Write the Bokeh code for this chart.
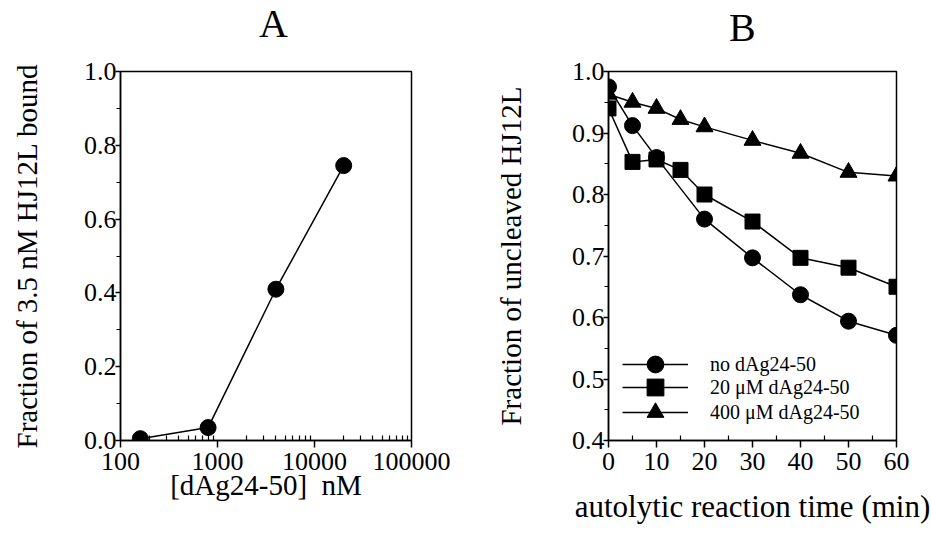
from bokeh.plotting import figure
from bokeh.layouts import row, column
from bokeh.models import (FixedTicker, NumeralTickFormatter, PrintfTickFormatter,
                          Range1d, Legend, LegendItem, Div)
from bokeh.embed import file_html
from bokeh.resources import INLINE

# ---- Panel A data ----
conc_nM = [160, 800, 4000, 20000]
frac_bound = [0.005, 0.035, 0.41, 0.745]
a_xticks = [100, 1000, 10000, 100000]
a_yticks = [0.0, 0.2, 0.4, 0.6, 0.8, 1.0]

# ---- Panel B data ----
t_none = [0, 5, 10, 20, 30, 40, 50, 60]
f_none = [0.975, 0.912, 0.860, 0.760, 0.697, 0.637, 0.594, 0.571]
t_20uM = [0, 5, 10, 15, 20, 30, 40, 50, 60]
f_20uM = [0.940, 0.853, 0.857, 0.840, 0.800, 0.756, 0.697, 0.681, 0.650]
t_400uM = [0, 5, 10, 15, 20, 30, 40, 50, 60]
f_400uM = [0.963, 0.950, 0.940, 0.922, 0.910, 0.888, 0.867, 0.836, 0.830]
b_xticks = [0, 10, 20, 30, 40, 50, 60]
b_yticks = [0.4, 0.5, 0.6, 0.7, 0.8, 0.9, 1.0]
legend_labels = ["no dAg24-50", "20 \u03bcM dAg24-50", "400 \u03bcM dAg24-50"]
panel_titles = ["A", "B"]

FONT = "Liberation Serif"
HEAD = 56


def style(p):
    p.outline_line_color = "black"
    p.outline_line_width = 1.5
    p.grid.visible = False
    p.background_fill_color = "white"
    p.border_fill_color = "white"
    for ax in (p.xaxis[0], p.yaxis[0]):
        ax.axis_line_width = 1.5
        ax.axis_line_color = "black"
        ax.major_tick_line_width = 1.5
        ax.minor_tick_line_width = 1.2
        ax.major_label_text_font = FONT
        ax.major_label_text_font_size = "26px"
        ax.major_label_text_color = "black"
        ax.axis_label_text_font = FONT
        ax.axis_label_text_font_size = "29px"
        ax.axis_label_text_font_style = "normal"
        ax.axis_label_text_color = "black"
    yax = p.yaxis[0]
    yax.major_tick_out = 5
    yax.major_tick_in = 0
    yax.minor_tick_out = 4
    yax.minor_tick_in = 0
    yax.major_label_standoff = -1
    xax = p.xaxis[0]
    xax.major_tick_out = 7
    xax.major_tick_in = 0
    xax.minor_tick_out = 0
    xax.minor_tick_in = 5
    xax.major_label_standoff = 5


def head(text, width, pad_left, line_h):
    return Div(text=text, width=width, height=HEAD, margin=0,
               styles={"font-family": FONT, "font-size": "40px",
                       "line-height": f"{line_h}px", "color": "black",
                       "padding-left": f"{pad_left}px", "text-align": "left",
                       "background-color": "white"})


# ---------------- Panel A ----------------
pa = figure(width=468, height=536 - HEAD, x_axis_type="log",
            output_backend="svg", toolbar_location=None,
            x_range=Range1d(100, 100000), y_range=Range1d(0, 1.0),
            min_border_left=120, min_border_right=57,
            min_border_top=68 - HEAD, min_border_bottom=96)
pa.line(conc_nM, frac_bound, line_color="black", line_width=1.5)
pa.scatter(conc_nM, frac_bound, marker="circle", size=16,
           fill_color="black", line_color="black")
minor_log = [m * d for d in (100, 1000, 10000) for m in range(2, 10)]
pa.xaxis.ticker = FixedTicker(ticks=a_xticks, minor_ticks=minor_log)
pa.xaxis.formatter = NumeralTickFormatter(format="0")
pa.yaxis.ticker = FixedTicker(ticks=a_yticks,
                              minor_ticks=[0.1, 0.3, 0.5, 0.7, 0.9])
pa.yaxis.formatter = PrintfTickFormatter(format="%.1f")
pa.xaxis.axis_label = "[dAg24-50]\u00a0 nM"
pa.yaxis.axis_label = "Fraction of 3.5 nM HJ12L bound"
style(pa)
pa.xaxis.axis_label_standoff = -4
pa.yaxis.axis_label_standoff = 38

# ---------------- Panel B ----------------
pb = figure(width=463, height=536 - HEAD, output_backend="svg",
            toolbar_location=None,
            x_range=Range1d(0, 60), y_range=Range1d(0.4, 1.0),
            min_border_left=140, min_border_right=35,
            min_border_top=71 - HEAD, min_border_bottom=95)
l1 = pb.line(t_none, f_none, line_color="black", line_width=1.5)
s1 = pb.scatter(t_none, f_none, marker="circle", size=16,
                fill_color="black", line_color="black")
l2 = pb.line(t_20uM, f_20uM, line_color="black", line_width=1.5)
s2 = pb.scatter(t_20uM, f_20uM, marker="square", size=15,
                fill_color="black", line_color="black")
l3 = pb.line(t_400uM, f_400uM, line_color="black", line_width=1.5)
s3 = pb.scatter(t_400uM, f_400uM, marker="triangle", size=17,
                fill_color="black", line_color="black")
pb.xaxis.ticker = FixedTicker(ticks=b_xticks,
                              minor_ticks=[5, 15, 25, 35, 45, 55])
pb.yaxis.ticker = FixedTicker(ticks=b_yticks,
                              minor_ticks=[0.45, 0.55, 0.65, 0.75, 0.85, 0.95])
pb.yaxis.formatter = PrintfTickFormatter(format="%.1f")
pb.xaxis.axis_label = "autolytic reaction time (min)"
pb.yaxis.axis_label = "Fraction of uncleaved HJ12L"
style(pb)
pb.xaxis.axis_label_text_font_size = "31px"
pb.xaxis.axis_label_standoff = 16
pb.yaxis.axis_label_standoff = 42

# one single-row legend per series so the rows can sit closer than the
# (large) glyph box that gives the big legend markers
legend_rows = [(legend_labels[0], [l1, s1], 55),
               (legend_labels[1], [l2, s2], 32),
               (legend_labels[2], [l3, s3], 7)]
for lab, rends, ypos in legend_rows:
    lg = Legend(items=[LegendItem(label=lab, renderers=rends)],
                location=(14, ypos))
    lg.border_line_color = None
    lg.background_fill_alpha = 0
    lg.label_text_font = FONT
    lg.label_text_font_size = "20px"
    lg.label_text_color = "black"
    lg.glyph_width = 66
    lg.glyph_height = 42
    lg.label_height = 42
    lg.label_standoff = 22
    lg.padding = 0
    lg.margin = 0
    pb.add_layout(lg)

heads = row(head(panel_titles[0], 468, 259, 48),
            head(panel_titles[1], 463, 261, 56))
layout = column(heads, row(pa, pb))
open("out.html", "w").write(file_html(layout, INLINE))
